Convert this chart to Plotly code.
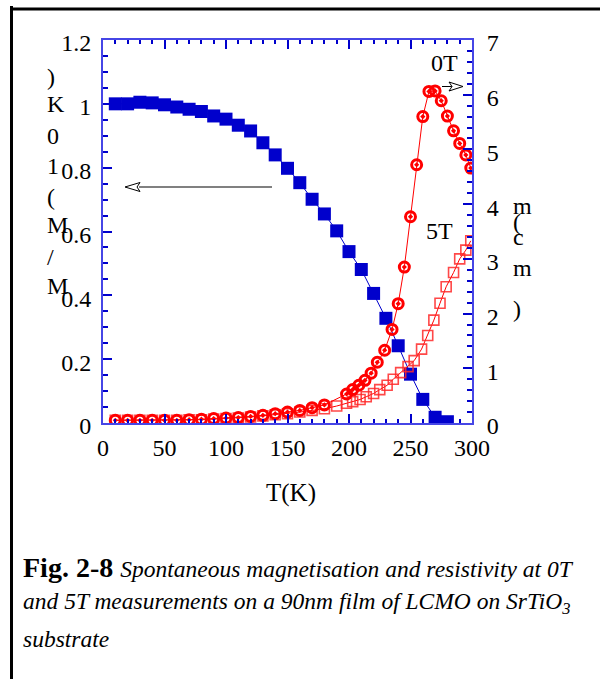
import plotly.graph_objects as go

# ---------------- data ----------------
T_mag = [10, 20, 30, 40, 50, 60, 70, 80, 90, 100, 110, 120, 130, 140, 150, 160, 170,
         180, 190, 200, 210, 220, 230, 240, 250, 260, 270, 280]
M_ratio = [1.0, 1.0, 1.005, 1.003, 0.997, 0.99, 0.983, 0.976, 0.962, 0.952, 0.933, 0.915,
           0.878, 0.84, 0.798, 0.753, 0.701, 0.655, 0.602, 0.537, 0.481, 0.406, 0.328,
           0.242, 0.153, 0.074, 0.018, 0.004]

T_0T = [10, 20, 30, 40, 50, 60, 70, 80, 90, 100, 110, 120, 130, 140, 150, 160, 170, 180,
        198, 203, 208, 213, 218, 223, 229, 235, 240, 245, 250, 255, 260, 265, 270, 275,
        280, 285, 290, 295, 299]
rho_0T = [0.05, 0.05, 0.05, 0.05, 0.05, 0.05, 0.06, 0.07, 0.08, 0.09, 0.10, 0.12, 0.14,
          0.17, 0.20, 0.23, 0.28, 0.33, 0.53, 0.61, 0.69, 0.78, 0.91, 1.11, 1.33, 1.71,
          2.18, 2.85, 3.77, 4.72, 5.60, 6.06, 6.07, 5.89, 5.61, 5.34, 5.11, 4.90, 4.66]

T_5T = [10, 20, 30, 40, 50, 60, 70, 80, 90, 100, 110, 120, 130, 140, 150, 160, 170, 180,
        190, 198, 203, 209, 214, 220, 225, 231, 236, 242, 248, 253, 259, 264, 269, 274,
        279, 285, 290, 295, 299]
rho_5T = [0.05, 0.05, 0.05, 0.05, 0.05, 0.05, 0.06, 0.06, 0.07, 0.08, 0.09, 0.11, 0.13,
          0.15, 0.17, 0.20, 0.23, 0.26, 0.31, 0.36, 0.39, 0.43, 0.48, 0.54, 0.61, 0.69,
          0.80, 0.92, 1.03, 1.14, 1.35, 1.60, 1.88, 2.19, 2.49, 2.75, 3.00, 3.16, 3.33]

x_ticks = [0, 50, 100, 150, 200, 250, 300]
y_ticks = [0, 0.2, 0.4, 0.6, 0.8, 1, 1.2]
y_ticktext = ["0", "0.2", "0.4", "0.6", "0.8", "1", "1.2"]
y2_ticks = [0, 1, 2, 3, 4, 5, 6, 7]

left_title_chars = [")", "K", "0", "1", "(", "M", "/", "M"]
right_title_chars = ["m", "(", "c", "m", ")"]

# ---------------- layout geometry ----------------
W, H = 600, 679
L, R, TOP, BOT = 103, 472, 40, 423   # plot area, pixels


def px(xp):
    return (xp - L) / (R - L)


def py(yp):
    return (BOT - yp) / (BOT - TOP)


FONT = "Liberation Serif"
BLUE = "#0000cc"
AXBLUE = "#4646e6"
RED = "#ff0000"

fig = go.Figure()

fig.add_trace(go.Scatter(
    x=T_5T, y=rho_5T, yaxis="y2", mode="lines+markers",
    line=dict(color=RED, width=1),
    marker=dict(symbol="square-open", size=10, color="rgba(255,40,40,0.85)",
                line=dict(width=1.6)),
    showlegend=False))

fig.add_trace(go.Scatter(
    x=T_0T, y=rho_0T, yaxis="y2", mode="lines+markers",
    line=dict(color=RED, width=1),
    marker=dict(symbol="circle-open-dot", size=10, color=RED, line=dict(width=3)),
    showlegend=False))

fig.add_trace(go.Scatter(
    x=T_mag, y=M_ratio, mode="lines+markers",
    line=dict(color=BLUE, width=1),
    marker=dict(symbol="square", size=13, color=BLUE),
    showlegend=False))

tickfont = dict(family=FONT, size=24, color="black")

fig.update_layout(
    width=W, height=H,
    margin=dict(l=L, r=W - R, t=TOP, b=H - BOT, autoexpand=False),
    paper_bgcolor="white", plot_bgcolor="white",
    xaxis=dict(range=[0, 300], tickvals=x_ticks, ticks="inside", ticklen=9,
               tickwidth=1.5, tickcolor=BLUE, showline=True, linecolor=AXBLUE,
               linewidth=2, mirror="ticks", showgrid=False, zeroline=False,
               tickfont=tickfont, ticklabelstandoff=2,
               minor=dict(dtick=10, ticks="inside", ticklen=4, tickcolor=BLUE,
                          showgrid=False)),
    yaxis=dict(range=[0, 1.2], tickvals=y_ticks, ticktext=y_ticktext,
               ticks="inside", ticklen=9, tickwidth=1.5, tickcolor=BLUE,
               showline=True, linecolor=AXBLUE, linewidth=2, mirror=False,
               showgrid=False, zeroline=False, tickfont=tickfont,
               ticklabelstandoff=5, ticklabelshift=3,
               minor=dict(dtick=0.05, ticks="inside", ticklen=5, tickcolor=BLUE,
                          showgrid=False)),
    yaxis2=dict(range=[0, 7], tickvals=y2_ticks, overlaying="y", side="right",
                anchor="x", ticks="inside", ticklen=9, tickwidth=1.5, tickcolor=BLUE,
                showline=True, linecolor=AXBLUE, linewidth=2, showgrid=False,
                zeroline=False, tickfont=tickfont, ticklabelstandoff=8,
                ticklabelshift=3,
                minor=dict(dtick=0.2, ticks="inside", ticklen=5, tickcolor=BLUE,
                           showgrid=False)),
)

ann = []
# x-axis title
ann.append(dict(x=px(291), y=py(493), xref="paper", yref="paper", text="T(K)",
                showarrow=False, font=dict(family=FONT, size=25, color="black"),
                xanchor="center", yanchor="middle"))

# left stacked title
left_y = [77, 104, 136, 166, 197, 225, 257, 286]
for ch, yy in zip(left_title_chars, left_y):
    ann.append(dict(x=px(45), y=py(yy), xref="paper", yref="paper", text=ch,
                    showarrow=False, font=dict(family=FONT, size=24, color="black"),
                    xanchor="left", yanchor="middle"))

# right stacked title
right_y = [206, 222, 237, 268, 309]
for ch, yy in zip(right_title_chars, right_y):
    ann.append(dict(x=px(511), y=py(yy), xref="paper", yref="paper", text=ch,
                    showarrow=False, font=dict(family=FONT, size=24, color="black"),
                    xanchor="left", yanchor="middle"))

# curve labels
ann.append(dict(x=px(444), y=py(63), xref="paper", yref="paper", text="0T",
                showarrow=False, font=dict(family=FONT, size=24, color="black"),
                xanchor="center", yanchor="middle"))
ann.append(dict(x=px(439), y=py(231), xref="paper", yref="paper", text="5T",
                showarrow=False, font=dict(family=FONT, size=24, color="black"),
                xanchor="center", yanchor="middle"))

# caption
ann.append(dict(x=px(21), y=py(567), xref="paper", yref="paper",
                text="<b>Fig. 2-8</b> <span style='font-size:23.5px'><i>Spontaneous "
                     "magnetisation and resistivity at 0T</i></span>",
                showarrow=False, font=dict(family=FONT, size=28, color="black"),
                xanchor="left", yanchor="middle"))
ann.append(dict(x=px(21), y=py(603), xref="paper", yref="paper",
                text="<i>and 5T measurements on a 90nm film of LCMO on SrTiO<sub>3</sub></i>",
                showarrow=False, font=dict(family=FONT, size=23.5, color="black"),
                xanchor="left", yanchor="middle"))
ann.append(dict(x=px(21), y=py(639), xref="paper", yref="paper",
                text="<i>substrate</i>",
                showarrow=False, font=dict(family=FONT, size=23.5, color="black"),
                xanchor="left", yanchor="middle"))

fig.update_layout(annotations=ann)

shapes = []
# page border (left and top), drawn as thin filled rectangles inside the page
shapes.append(dict(type="rect", xref="paper", yref="paper", x0=px(10), x1=px(13),
                   y0=py(6), y1=py(679), line=dict(width=0), fillcolor="black",
                   layer="above"))
shapes.append(dict(type="rect", xref="paper", yref="paper", x0=px(10), x1=px(600),
                   y0=py(7.5), y1=py(10.5), line=dict(width=0), fillcolor="black",
                   layer="above"))

# left pointing arrow (magnetisation axis)
shapes.append(dict(type="line", xref="paper", yref="paper", x0=px(272), x1=px(139),
                   y0=py(187), y1=py(187), line=dict(color="#808080", width=2)))
shapes.append(dict(type="path", xref="paper", yref="paper",
                   path="M {},{} L {},{} L {},{} L {},{} Z".format(
                       px(125), py(187), px(140), py(182.5), px(137), py(187),
                       px(140), py(191.5)),
                   line=dict(color="black", width=1), fillcolor="white"))

# right pointing arrow (resistivity axis)
shapes.append(dict(type="line", xref="paper", yref="paper", x0=px(442), x1=px(452),
                   y0=py(86.5), y1=py(86.5), line=dict(color="black", width=1)))
shapes.append(dict(type="path", xref="paper", yref="paper",
                   path="M {},{} L {},{} L {},{} L {},{} Z".format(
                       px(463), py(86.5), px(449), py(82), px(452), py(86.5),
                       px(449), py(91)),
                   line=dict(color="black", width=1), fillcolor="white"))

fig.update_layout(shapes=shapes)

# remove the default 8px page margin so the figure sits at the window's corner
fig.write_html("out.html",
               config={"displayModeBar": False},
               post_script="document.body.style.margin='0px';"
                           "document.body.style.overflow='hidden';")
